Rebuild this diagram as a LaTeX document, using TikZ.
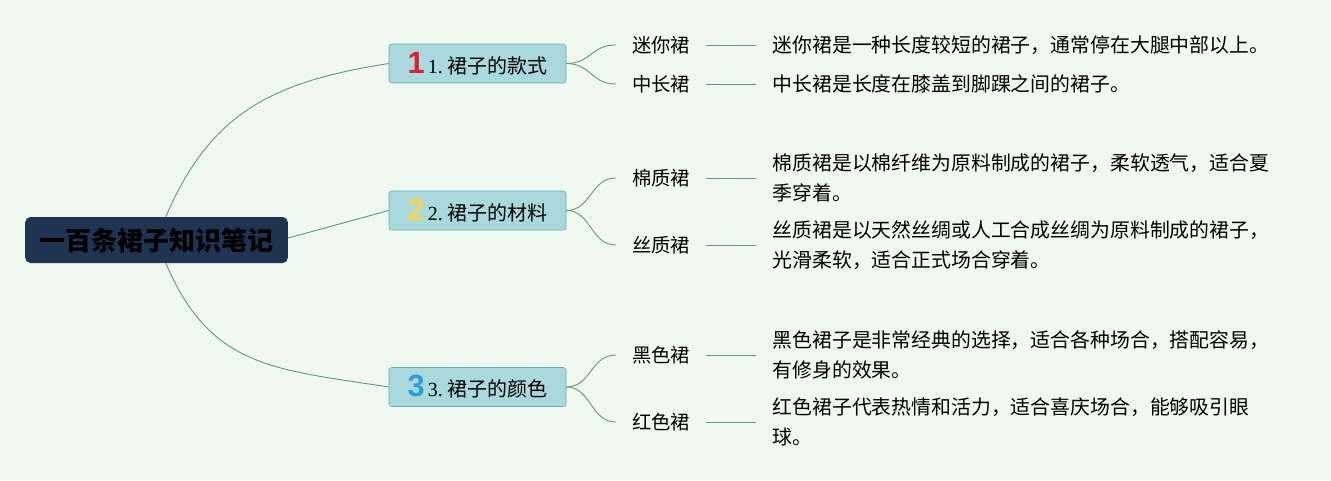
\documentclass[tikz,border=0pt]{standalone}
\usepackage{fontspec}
\setmainfont{Noto Sans CJK SC}
\newfontfamily\numfont{Liberation Serif}
\newfontfamily\iconfont{Liberation Sans}
\usetikzlibrary{positioning}
\definecolor{paper}{RGB}{240,249,240}
\definecolor{navy}{RGB}{31,52,83}
\definecolor{tealfill}{RGB}{169,217,220}
\definecolor{tealline}{RGB}{110,170,170}
\definecolor{branch}{RGB}{98,156,134}
\definecolor{numred}{RGB}{217,32,47}
\definecolor{numyellow}{RGB}{245,213,71}
\definecolor{numblue}{RGB}{42,159,216}
\tikzset{
  root/.style={fill=navy,rounded corners=4pt,minimum width=197pt,minimum height=34.5pt,
    inner sep=0pt,font=\fontsize{19.5}{22}\selectfont\bfseries,text=black},
  topic/.style={draw=tealline,fill=tealfill,rounded corners=2pt,minimum width=132.75pt,
    minimum height=29.25pt,inner sep=0pt,font=\fontsize{15}{17}\selectfont},
  leaf/.style={inner xsep=12pt,inner ysep=2pt,font=\fontsize{14.5}{17}\selectfont},
  note/.style={inner xsep=12pt,inner ysep=2pt,align=left,font=\fontsize{14.9}{22.5}\selectfont},
  link/.style={draw=branch,line width=0.7pt},
}
\newcommand{\topicnum}[2]{{\iconfont\fontsize{23}{23}\selectfont\bfseries\textcolor{#1}{#2}}\hspace{2.5pt}{\numfont #2.}\ }

\begin{document}
\begin{tikzpicture}[x=0.75pt,y=-0.75pt]
  \fill[paper] (0,0) rectangle (1331,480);
  \useasboundingbox (0,0) rectangle (1331,480);

  \node[root] (root) at (156.5,240) {一百条裙子知识笔记};

  \node[topic] (t1) at (477.5,63.5) {\topicnum{numred}{1}裙子的款式};
  \node[topic] (t2) at (477.5,210.5) {\topicnum{numyellow}{2}裙子的材料};
  \node[topic] (t3) at (477.5,387) {\topicnum{numblue}{3}裙子的颜色};

  % root to topics
  \draw[link] ([xshift=7pt]root.north) .. controls +(45,-105) and +(-115,18) .. (t1.west);
  \draw[link] ([yshift=1.5pt]root.east) -- (t2.west);
  \draw[link] ([xshift=7pt]root.south) .. controls +(45,105) and +(-115,-18) .. (t3.west);

  % leaves and their notes
  \foreach \id/\y/\name/\desc in {
    a1/45/迷你裙/{迷你裙是一种长度较短的裙子，通常停在大腿中部以上。},
    a2/84/中长裙/{中长裙是长度在膝盖到脚踝之间的裙子。},
    b1/178/棉质裙/{棉质裙是以棉纤维为原料制成的裙子，柔软透气，适合夏\\季穿着。},
    b2/245/丝质裙/{丝质裙是以天然丝绸或人工合成丝绸为原料制成的裙子，\\光滑柔软，适合正式场合穿着。},
    c1/355/黑色裙/{黑色裙子是非常经典的选择，适合各种场合，搭配容易，\\有修身的效果。},
    c2/422/红色裙/{红色裙子代表热情和活力，适合喜庆场合，能够吸引眼\\球。}} {
    \node[leaf] (\id) at (661,\y) {\name};
    \node[note,right=37.5pt of \id] (\id n) {\desc};
    \draw[link] (\id) -- (\id n);
  }

  % topics to leaves
  \draw[link] (t1.east) .. controls +(25,0) and +(-25,0) .. (a1.west);
  \draw[link] (t1.east) .. controls +(25,0) and +(-25,0) .. (a2.west);
  \draw[link] (t2.east) .. controls +(25,0) and +(-25,0) .. (b1.west);
  \draw[link] (t2.east) .. controls +(25,0) and +(-25,0) .. (b2.west);
  \draw[link] (t3.east) .. controls +(25,0) and +(-25,0) .. (c1.west);
  \draw[link] (t3.east) .. controls +(25,0) and +(-25,0) .. (c2.west);
\end{tikzpicture}
\end{document}
